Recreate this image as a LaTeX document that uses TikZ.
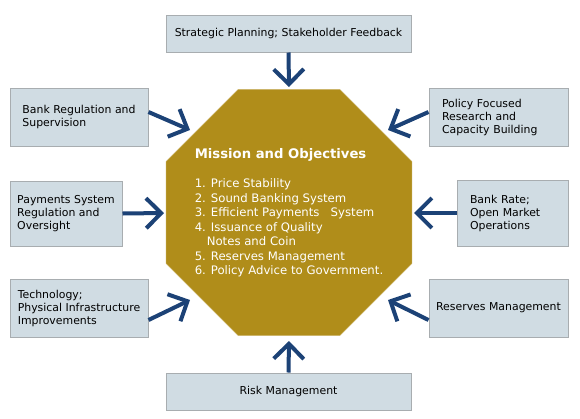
\documentclass[tikz,border=0pt]{standalone}
\usepackage{fontspec}
\setmainfont{DejaVu Sans}
\usetikzlibrary{arrows.meta,shapes.geometric}
\definecolor{boxfill}{RGB}{208,220,227}
\definecolor{boxline}{RGB}{168,173,176}
\definecolor{octfill}{RGB}{176,141,26}
\definecolor{arrowblue}{RGB}{28,66,118}
\tikzset{
  infobox/.style={draw=boxline, fill=boxfill, line width=1pt, minimum height=58pt,
    inner xsep=0pt, align=left, font=\fontsize{10.9}{13}\selectfont},
  feed/.style={draw=arrowblue, line width=4pt, -{Straight Barb[length=15pt,width=30pt]}}
}
\begin{document}
\begin{tikzpicture}[x=1pt,y=-1pt]
\useasboundingbox[fill=white] (0,0) rectangle (580,418);
% centre: mission and objectives
\node[regular polygon, regular polygon sides=8, minimum size=266pt, inner sep=0pt,
  fill=octfill, draw=octfill!80!white] (oct) at (289,212.5) {};
\node[text=white, align=left, font=\fontsize{11.7}{14.5}\selectfont] (mission) at (oct.center)
  {{\fontsize{13.2}{14}\selectfont\bfseries Mission and Objectives}\\[15pt]
   1. Price Stability\\
   2. Sound Banking System\\
   3. Efficient Payments\ \ \ System\\
   4. Issuance of Quality\\
   \hspace*{12pt}Notes and Coin\\
   5. Reserves Management\\
   6. Policy Advice to Government.};
% surrounding boxes
\node[infobox, minimum width=245pt, minimum height=37pt, align=center] (plan) at (288.5,33.5)
  {Strategic Planning; Stakeholder Feedback};
\node[infobox, minimum width=138pt] (bankreg) at (79,117) {Bank Regulation and\\Supervision};
\node[infobox, inner xsep=13pt, text width=113pt] (policy) at (498.5,117) {Policy Focused\\Research and\\Capacity Building};
\node[infobox, minimum width=112pt, minimum height=65pt] (payments) at (66,213.5) {Payments System\\Regulation and\\Oversight};
\node[infobox, inner xsep=13pt, text width=85pt, minimum height=66pt] (bankrate) at (512.5,213) {Bank Rate;\\Open Market\\Operations};
\node[infobox, minimum width=138pt] (tech) at (79,308) {Technology;\\Physical Infrastructure\\Improvements};
\node[infobox, minimum width=139pt, align=center] (reserves) at (498.5,308) {Reserves Management};
\node[infobox, minimum width=245pt, minimum height=37pt, align=center] (risk) at (288.5,391.5)
  {Risk Management};
% arrow tips
\coordinate (tipN) at (289,87);
\coordinate (tipNW) at (190,130);
\coordinate (tipNE) at (388,130);
\coordinate (tipW) at (164,213);
\coordinate (tipE) at (414,213);
\coordinate (tipSW) at (190,300);
\coordinate (tipSE) at (388,300);
\coordinate (tipS) at (289,341);
% arrows
\draw[feed] (plan.south) -- (tipN);
\draw[feed] ([yshift=5pt]bankreg.east) -- (tipNW);
\draw[feed] ([yshift=5pt]policy.west) -- (tipNE);
\draw[feed] (payments.east) -- (tipW);
\draw[feed] (bankrate.west) -- (tipE);
\draw[feed] ([yshift=-12pt]tech.east) -- (tipSW);
\draw[feed] ([yshift=-12pt]reserves.west) -- (tipSE);
\draw[feed] (risk.north) -- (tipS);
\end{tikzpicture}
\end{document}
